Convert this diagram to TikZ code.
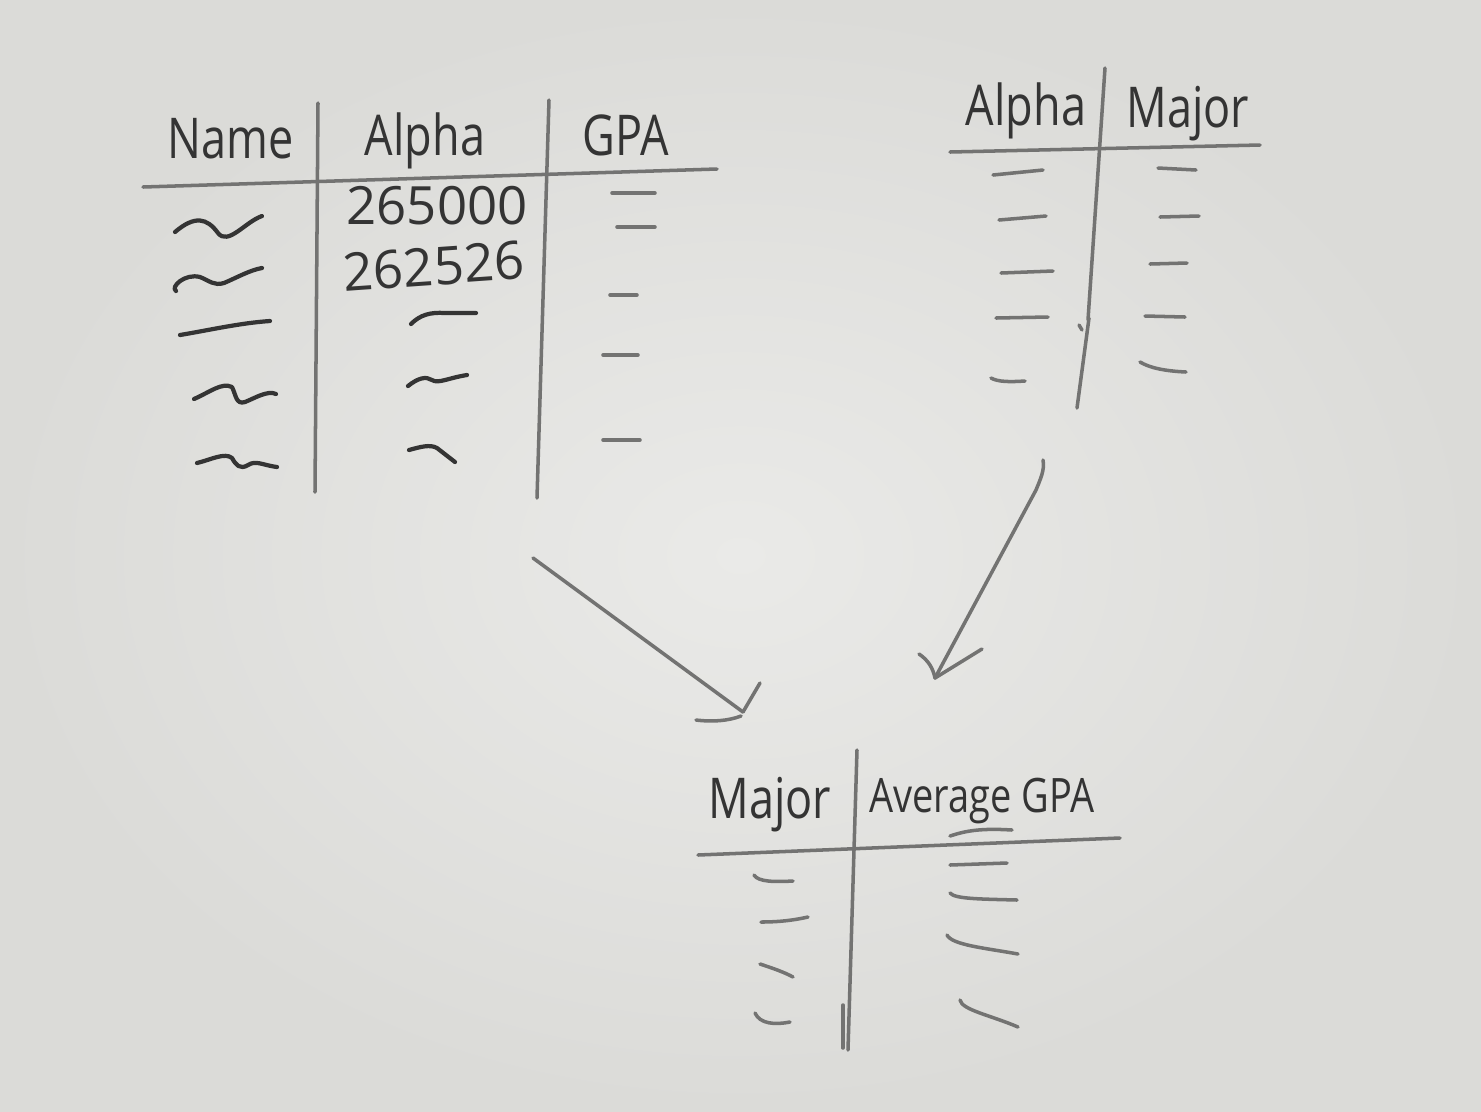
\documentclass[tikz,border=0pt]{standalone}
\usepackage{fontspec}
\setmainfont{Open Sans}
\newfontfamily\handfont[FakeStretch=0.8]{Open Sans}
\definecolor{BoardLight}{RGB}{234,234,232}
\definecolor{BoardEdge}{RGB}{219,219,216}
\definecolor{MarkerGray}{RGB}{115,115,114}
\definecolor{InkDark}{RGB}{52,52,52}

\begin{document}
\begin{tikzpicture}[x=0.01cm, y=-0.01cm,
    penline/.style={MarkerGray, line width=1pt, line cap=round, line join=round},
    inkline/.style={InkDark, line width=1.2pt, line cap=round, line join=round},
    penlabel/.style={text=InkDark, font=\handfont\fontsize{16}{19}\selectfont, inner sep=0pt, anchor=base},
    numlabel/.style={text=InkDark, font=\fontsize{15}{18}\selectfont, inner sep=0pt, anchor=base}]

    % Board
    \shade[inner color=BoardLight, outer color=BoardEdge] (0,0) rectangle (1481,1111);
    \useasboundingbox (0,0) rectangle (1481,1111);

    % Table 1: headers
    \node[penlabel] (name1) at (231,158) {Name};
    \node[penlabel] (alpha1) at (425,155) {Alpha};
    \node[penlabel] (gpa1) at (626,155) {GPA};

    % Table 1: grid
    \draw[penline] (143,187) -- (717,169);
    \draw[penline] (318,103) -- (315,492);
    \draw[penline] (549,100) -- (537,498);

    % Table 1: Name column
    \draw[inkline] (175,232) .. controls (195,215) and (207,218) .. (218,233)
        .. controls (228,246) and (245,222) .. (262,216);
    \draw[inkline] (176,291) .. controls (170,287) and (185,273) .. (200,277)
        .. controls (210,281) and (214,286) .. (224,283) .. controls (236,278) and (250,270) .. (262,268);
    \draw[inkline] (180,335) .. controls (210,330) and (240,323) .. (270,321);
    \draw[inkline] (194,399) .. controls (210,392) and (222,382) .. (232,387)
        .. controls (236,395) and (236,405) .. (245,402) .. controls (255,398) and (268,390) .. (276,394);
    \draw[inkline] (197,463) .. controls (210,460) and (225,452) .. (232,458)
        .. controls (236,465) and (240,470) .. (248,465) .. controls (256,460) and (262,465) .. (277,467);

    % Table 1: Alpha column
    \node[numlabel] (num1) at (437,224) {265000};
    \node[numlabel, rotate=4] (num2) at (435,285) {262526};
    \draw[inkline] (411,324) .. controls (420,315) and (430,312) .. (445,313) -- (476,313);
    \draw[inkline] (408,386) .. controls (418,378) and (426,376) .. (432,380)
        .. controls (438,384) and (448,378) .. (467,375);
    \draw[inkline] (409,450) .. controls (420,447) and (430,444) .. (437,448) -- (455,462);

    % Table 1: GPA column
    \foreach \xa/\ya/\xb/\yb in {612/193/655/193, 617/227/655/227, 610/295/637/295,
                                 603/355/638/355, 603/440/640/440} {
      \draw[penline] (\xa,\ya) -- (\xb,\yb);
    }

    % Table 2: headers and grid
    \node[penlabel] (alpha2) at (1026,125) {Alpha};
    \node[penlabel] (major2) at (1188,127) {Major};
    \draw[penline] (950,152) -- (1260,145);
    \draw[penline] (1105,68) -- (1088,320);
    \draw[penline] (1089,318) -- (1077,408);
    \draw[penline] (1079,325) -- (1082,330);

    % Table 2: rows
    \foreach \xa/\ya/\xb/\yb in {993/175/1043/170, 999/220/1046/216, 1001/273/1053/271,
                                 996/318/1048/317, 1158/168/1196/170, 1160/217/1199/216,
                                 1150/264/1187/263, 1145/316/1185/317} {
      \draw[penline] (\xa,\ya) -- (\xb,\yb);
    }
    \draw[penline] (991,378) .. controls (998,382) and (1010,382) .. (1025,381);
    \draw[penline] (1140,362) .. controls (1150,368) and (1165,371) .. (1186,372);

    % Arrows into the result table
    \coordinate (arrL-from) at (533,558);
    \coordinate (arrL-to) at (743,712);
    \coordinate (arrR-from) at (1043,460);
    \coordinate (arrR-to) at (935,678);
    \draw[penline] (arrL-from) -- (arrL-to);
    \draw[penline] (arrL-to) -- ++(17,-29);
    \draw[penline] (696,720) .. controls (712,722) and (728,721) .. (741,716);
    \draw[penline] (arrR-from) .. controls (1045,470) and (1040,480) .. (1036,490) -- (arrR-to);
    \draw[penline] (arrR-to) .. controls (933,668) and (928,660) .. (919,654);
    \draw[penline] (arrR-to) -- (982,649);

    % Table 3: headers and grid
    \node[penlabel] (major3) at (770,818) {Major};
    \node[penlabel, font=\handfont\fontsize{13.5}{16}\selectfont] (avggpa3) at (982,812) {Average GPA};
    \draw[penline] (698,855) -- (1120,838);
    \draw[penline] (950,836) .. controls (965,831) and (980,828) .. (1012,830);
    \draw[penline] (857,750) -- (848,1050);
    \draw[penline] (843,1005) -- (843,1048);

    % Table 3: rows
    \draw[penline] (754,875) .. controls (758,882) and (775,882) .. (793,881);
    \draw[penline] (761,922) .. controls (780,922) and (795,920) .. (808,917);
    \draw[penline] (760,964) .. controls (772,968) and (784,972) .. (793,977);
    \draw[penline] (755,1013) .. controls (760,1024) and (775,1025) .. (790,1022);
    \draw[penline] (950,865) -- (1007,863);
    \draw[penline] (950,893) .. controls (955,899) and (980,899) .. (1017,900);
    \draw[penline] (947,935) .. controls (952,945) and (985,948) .. (1018,954);
    \draw[penline] (960,1000) .. controls (962,1010) and (990,1015) .. (1018,1027);
  \end{tikzpicture}
\end{document}
